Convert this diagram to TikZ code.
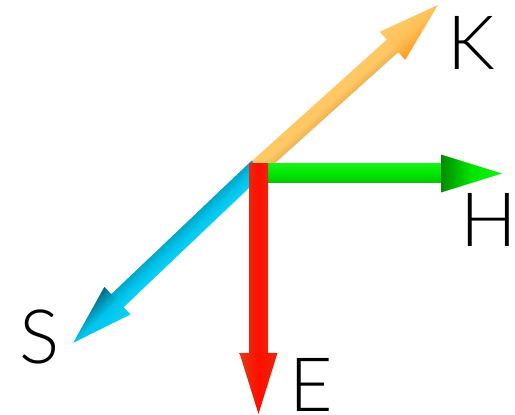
\documentclass[tikz,border=0pt]{standalone}
\usepackage{fontspec}
\newfontfamily\labfont{Lato Light}
\definecolor{redE}{HTML}{E8280C}
\definecolor{redM}{HTML}{FF0E00}
\definecolor{redH}{HTML}{E03C12}
\definecolor{grnT}{HTML}{18F018}
\definecolor{grnM}{HTML}{00E600}
\definecolor{grnB}{HTML}{00C400}
\definecolor{grnD}{HTML}{008A00}
\definecolor{orL}{HTML}{FFC865}
\definecolor{orM}{HTML}{FFC25A}
\definecolor{orD}{HTML}{FF9A1E}
\definecolor{blL}{HTML}{10CFF2}
\definecolor{blM}{HTML}{00C4EC}
\definecolor{blD}{HTML}{00647E}
\newcommand{\myarrow}[7]{%
  \begin{scope}[transform canvas={shift={(#1,#2)},rotate=#3}]
    \pgfmathsetmacro\hb{#4-61}
    \shade[#6] (0,-#5/2) rectangle (\hb+1,#5/2);
    \shade[#7] (\hb,-19) -- (#4,0) -- (\hb,19) -- cycle;
  \end{scope}}
\begin{document}
\begin{tikzpicture}[x=1pt,y=1pt,
  lab/.style={inner sep=0pt, font=\labfont\fontsize{75}{75}\selectfont, text=black}]
\useasboundingbox (0,0) rectangle (515,415);
\fill[white] (0,0) rectangle (515,415);
\coordinate (O) at (258,248);
% blue (S)
\myarrow{258}{248}{223.57}{255}{18}{top color=blL,bottom color=blM!85!black,middle color=blM}{top color=blL,bottom color=blD,middle color=blM}
% orange (K)
\myarrow{258}{248}{42}{242}{17}{top color=orL,bottom color=orM!92!black,middle color=orL}{top color=orL,bottom color=orD,middle color=orM}
% green (H)
\myarrow{258.5}{241.5}{0}{243.5}{19}{top color=grnT,bottom color=grnB,middle color=grnM}{left color=grnD,right color=grnT,middle color=grnM}
% red (E)
\myarrow{258.5}{251}{-90}{250}{19}{top color=redE,bottom color=redE,middle color=redM}{top color=redE,bottom color=redH,middle color=redM}
\node[lab] (K) at (471,372) {K};
\node[lab] (H) at (489,195) {H};
\node[lab] (S) at (40,78) {S};
\node[lab] (E) at (311,30) {E};
\end{tikzpicture}
\end{document}
